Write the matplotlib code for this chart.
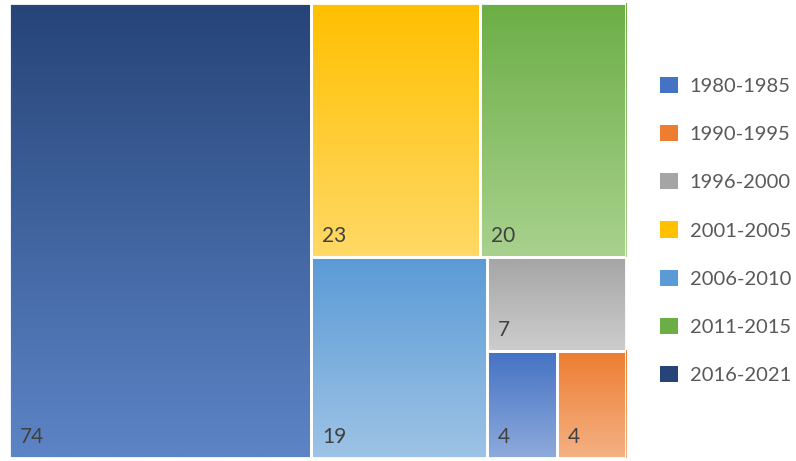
import numpy as np
import matplotlib.pyplot as plt
from matplotlib.colors import to_rgb
from matplotlib.patches import Rectangle, Patch

plt.rcParams['font.family'] = ['Lato', 'DejaVu Sans']

periods = ['1980-1985', '1990-1995', '1996-2000', '2001-2005',
           '2006-2010', '2011-2015', '2016-2021']
counts = [4, 4, 7, 23, 19, 20, 74]
top_colors = ['#4472C4', '#ED7D31', '#A5A5A5', '#FFC000',
              '#5B9BD5', '#6CAE46', '#264478']
bottom_colors = ['#8EAADB', '#F4B183', '#CDCDCD', '#FFD966',
                 '#9DC3E6', '#A8D18D', '#5C84C6']

W, H = 617.0, 455.0


def worst(row, side, scale):
    s = sum(row) * scale
    length = s / side
    r = [max(length / (v * scale / length), (v * scale / length) / length) for v in row]
    return max(r)


def squarify(values, x, y, w, h):
    '''
    squarified treemap, rows placed at top / left
    returns list of (x, y, w, h) with y measured from top
    '''
    scale = w * h / sum(values)
    rects = []
    vals = list(values)
    while vals:
        side = min(w, h)
        row = [vals.pop(0)]
        while vals and worst(row + [vals[0]], side, scale) <= worst(row, side, scale):
            row.append(vals.pop(0))
        thick = sum(row) * scale / side
        pos = 0.0
        for v in row:
            ln = v * scale / thick
            if w >= h:  # column on the left
                rects.append((x, y + pos, thick, ln))
            else:  # row on top
                rects.append((x + pos, y, ln, thick))
            pos += ln
        if w >= h:
            x += thick
            w -= thick
        else:
            y += thick
            h -= thick
    return rects


order = sorted(range(len(counts)), key=lambda i: -counts[i])
rects = squarify([counts[i] for i in order], 0, 0, W, H)

fig = plt.figure(figsize=(7.96, 4.61), dpi=100)
ax = fig.add_axes([9 / 796, 3 / 461, W / 796, H / 461])
ax.axis('off')

for i, (x, y, w, h) in zip(order, rects):
    c0 = np.array(to_rgb(top_colors[i]))
    c1 = np.array(to_rgb(bottom_colors[i]))
    t = np.linspace(0, 1, 64)[:, None]
    grad = (c0 * (1 - t) + c1 * t)[:, None, :]
    ax.imshow(grad, extent=(x, x + w, y + h, y), aspect='auto',
              interpolation='bilinear', zorder=1)
    ax.add_patch(Rectangle((x, y), w, h, fill=False, edgecolor='white',
                           lw=2, zorder=2))
    ax.text(x + 11, y + h - 15, str(counts[i]), fontsize=15,
            color='#404040', va='baseline', ha='left', zorder=3)

ax.set_xlim(0, W)
ax.set_ylim(H, 0)

handles = [Patch(facecolor=top_colors[i], edgecolor='none')
           for i in range(len(periods))]
fig.legend(handles, periods, loc='center left', bbox_to_anchor=(0.807, 0.5),
           frameon=False, fontsize=14.5, labelcolor='#595959',
           handlelength=0.85, handleheight=0.85, handletextpad=0.6,
           labelspacing=1.5)

fig.savefig('out.png', dpi=100)
